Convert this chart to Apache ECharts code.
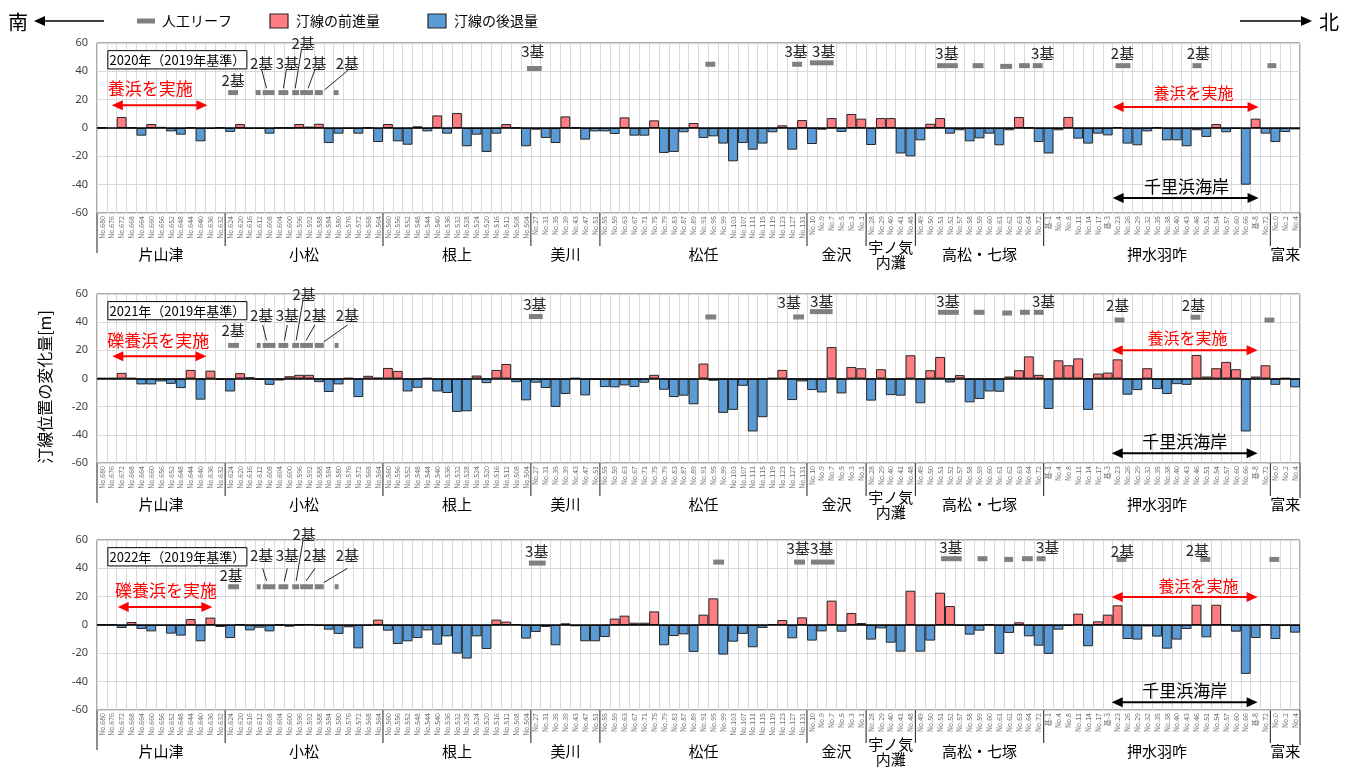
<!DOCTYPE html>
<html><head><meta charset="utf-8">
<script src="https://cdn.jsdelivr.net/npm/echarts@6/dist/echarts.min.js"></script>
<style>html,body{margin:0;padding:0;background:#fff}#c{width:1345px;height:767px}</style>
</head><body><div id="c"></div>
<script>
// ---------- data ----------
const categories = [
 'No.680','No.676','No.672','No.668','No.664','No.660','No.656','No.652','No.648','No.644','No.640','No.636','No.632',
 'No.624','No.620','No.616','No.612','No.608','No.604','No.600','No.596','No.592','No.588','No.584','No.580','No.576','No.572','No.568','No.564',
 'No.560','No.556','No.552','No.548','No.544','No.540','No.536','No.532','No.528','No.524','No.520','No.516','No.512','No.508','No.504',
 'No.27','No.31','No.35','No.39','No.43','No.47','No.51',
 'No.55','No.59','No.63','No.67','No.71','No.75','No.79','No.83','No.87','No.89','No.91','No.95','No.99','No.103','No.107','No.111','No.115','No.119','No.123','No.127','No.131',
 'No.10','No.9','No.7','No.5','No.3','No.1',
 'No.28','No.29','No.40','No.41','No.48',
 'No.49','No.50','No.51','No.52','No.57','No.58','No.59','No.60','No.61','No.62','No.63','No.64','No.72',
 '基-1','No.4','No.8','No.11','No.14','No.17','基-3','No.23','No.26','No.29','No.32','No.35','No.38','No.40','No.43','No.46','No.51','No.54','No.57','No.60','No.66','基-8','No.72',
 'No.0','No.2','No.4'
];
const groupNames = ['片山津','小松','根上','美川','松任','金沢','宇ノ気\n内灘','高松・七塚','押水羽咋','富来'];
const groupSizes = [13,16,15,7,21,6,5,13,23,3];
const years = ['2020','2021','2022'];
const yTicks = [-60,-40,-20,0,20,40,60];

const values2020 = [
 0.3,0,7.8,0.3,-5.4,2.8,0.8,-2.4,-4.7,0.3,-9.4,-0.7,0.3,
 -2.8,2.8,-0.5,-0.5,-4,0.2,0.2,2.8,1,3,-10.6,-4,-0.5,-4,0.2,-9.9,
 2.8,-9.4,-11.8,1.2,-2.4,8.9,-4,10.6,-12.9,-4.7,-16.9,-4,2.8,0.2,-12.9,
 -1.2,-7,-10.6,8.2,0.2,-8.2,-2.4,
 -2.4,-4.2,7.5,-5.4,-5.4,5.4,-17.6,-16.9,-3,3.5,-7,-5.9,-11,-23.5,-10.6,-15.3,-11,-3,1.9,-15.3,5.6,
 -11.3,-1.2,7,-2.8,9.9,6.6,
 -12,7,7,-18,-20,
 -8.7,3,7,-4,-1.6,-9.4,-7.3,-4,-12.2,-1.6,7.8,0.3,-9.9,
 -18,-1.6,7.8,-7.5,-11,-4,-5.2,0.7,-11,-12.2,-2.4,0.5,-8.7,-8.7,-12.9,-1.6,-6.3,2.8,-3,-0.5,-40,6.6,-4,
 -9.9,-2.8,-1
];
const values2021 = [
 0.3,0.3,4,0.3,-4.2,-4.2,-2.1,-3.8,-6.8,6.1,-15,5.6,-0.9,
 -9.2,3.8,0.9,-0.9,-4.5,-1.4,1.6,2.6,2.6,-2.6,-9.6,-4.2,0.3,-13.2,1.9,0.5,
 7.5,5.4,-9.2,-6.6,0.3,-9.2,-10.3,-23.7,-23.3,2.1,-3.3,6.1,10.3,-2.6,-15.5,
 -3,-6.8,-20.2,-11,0.3,-12,-1,
 -6.1,-6.3,-4.9,-6.1,-3,2.6,-8,-13.2,-12.2,-18.3,10.6,-1.6,-24.4,-22.3,-5.2,-37.6,-27.5,0.3,6.1,-15.3,-2.1,
 -8.2,-9.9,22.3,-10.6,8.2,7.3,
 -15.7,6.6,-11.8,-12.2,16.5,
 -17.6,5.9,15.3,-2.8,2.4,-16.9,-14.6,-9.2,-9.4,1.4,5.9,15.7,2.6,
 -21.6,12.9,9.4,14.3,-22.3,3.5,4.2,13.6,-11.5,-8.2,7.3,-7.5,-11,-4,-4.5,16.7,1.4,7.3,11.8,6.6,-37.6,1.4,9.4,
 -4.5,0.3,-6.3
];
const values2022 = [
 0.3,0.3,-2.1,2.1,-2.8,-4.5,-0.7,-6.1,-7.5,4.2,-11.5,5.2,-1.4,
 -9.2,0.5,-3.8,-1.9,-4.5,0.3,-1.2,0.3,0.7,-0.5,-3.3,-6.3,-1.6,-16.5,-0.5,3.8,
 -4,-13.4,-11.5,-9.2,-3.8,-13.9,-8,-20.2,-23.7,-8,-16.9,3.8,2.4,0.7,-9.6,
 -4.9,-1.4,-14.3,1.2,-0.9,-11.5,-11.5,
 -8.5,4.5,6.6,1.6,1.6,9.6,-14.3,-7.8,-6.6,-19,7.3,18.8,-20.9,-11.8,-6.3,-15.7,-2.1,0.7,3.5,-9.4,5.4,
 -11,-4.5,17.2,-4.7,8.5,1.4,
 -10.3,-2.4,-12.5,-18.8,24.2,
 -18.8,-11,22.8,13.4,-0.5,-6.8,-4,0.3,-20.4,-5.6,1.9,-8,-14.6,
 -20.4,-3.3,-0.5,8,-15,2.6,7.3,13.9,-9.9,-10.3,-1,-8.2,-16.7,-10.3,-2.8,14.3,-8.7,14.3,0.5,-4.7,-34.5,-9.2,0.5,
 -9.9,-0.5,-5.4
];
const values = [values2020, values2021, values2022];

// artificial reefs: [start, end] in category units, level [m]
const reefs2020 = [[13.3,14.3,25],[16.1,16.6,25],[16.8,18.0,25],[18.4,19.4,25],[19.8,20.5,25],[20.6,21.9,25],[22.1,22.9,25],[24.0,24.5,25],
 [43.6,45.1,42],[61.7,62.7,45],[70.5,71.5,45],[72.3,74.7,46],[85.2,87.3,44],[88.8,89.9,44],[91.6,92.8,43.5],[93.5,94.6,44],[94.9,95.9,44],[103.3,104.8,44],[111.1,112,44],[118.7,119.6,44]];
const reefs2021 = [[13.3,14.4,23.5],[16.2,16.6,23.5],[16.8,18.1,23.5],[18.4,19.4,23.5],[19.8,20.5,23.5],[20.6,21.9,23.5],[22.1,23.0,23.5],[24.1,24.5,23.5],
 [43.8,45.2,44],[61.7,62.8,43.7],[70.6,71.7,43.7],[72.3,74.6,47.5],[85.3,87.4,47],[88.9,90,47],[91.8,92.8,46.5],[93.6,94.6,47],[95,96,47],[103.2,104.2,41.5],[110.9,111.9,43.5],[118.4,119.4,41.5]];
const reefs2022 = [[13.3,14.4,27],[16.2,16.6,27],[16.8,18.1,27],[18.4,19.4,27],[19.8,20.5,27],[20.6,21.9,27],[22.1,23.0,27],[24.1,24.5,27],
 [43.8,45.5,43.7],[62.5,63.6,44.4],[70.7,71.8,44.4],[72.4,74.8,44.4],[85.6,87.7,46.8],[89.3,90.3,46.8],[92,92.9,46.3],[93.8,94.9,46.8],[95.3,96.2,46.8],[103.4,104.4,46.3],[111.9,112.9,46.3],[118.9,119.9,46.3]];
const reefs = [reefs2020, reefs2021, reefs2022];

// reef count labels [text, category pos, level]
const kiLabels2020 = [['2基',13.8,34],['2基',16.7,46],['3基',19.3,46],['2基',20.9,60],['2基',22.1,46],['2基',25.4,46],['3基',44.2,54],['3基',70.9,54],['3基',73.7,54],['3基',86.2,53],['3基',95.9,53],['2基',104,53],['2基',111.7,53]];
const kiLabels2021 = [['2基',13.8,34],['2基',16.7,45],['3基',19.3,45],['2基',21.0,60],['2基',22.1,45],['2基',25.4,45],['3基',44.4,53],['3基',70.2,54],['3基',73.5,55],['3基',86.3,55],['3基',96,55],['2基',103.5,52],['2基',111.2,52]];
const kiLabels2022 = [['2基',13.6,35],['2基',16.7,49],['3基',19.3,49],['2基',21.0,64],['2基',22.1,49],['2基',25.4,49],['3基',44.6,52],['3基',71.1,54],['3基',73.5,54],['3基',86.6,55],['3基',96.4,55],['2基',104,52],['2基',111.6,53]];
const kiLabels = [kiLabels2020, kiLabels2021, kiLabels2022];
const leaders = [
 [[16.7,41,17.2,28],[19.2,41,18.9,28],[20.75,56,20.1,28],[22.1,41,21.4,28],[25.5,41,23.1,27]],
 [[16.8,38,17.2,27],[19.3,38,19.0,27],[20.9,56,20.2,27],[22.1,38,21.2,27],[25.4,38,23.0,26]],
 [[16.8,40,17.2,31],[19.3,40,19.0,31],[20.9,60,20.2,31],[22.1,40,21.2,31],[25.4,40,23.0,30]]
];
const leftNotes = [
 {text:'養浜を実施', c1:1.5, c2:11.2, y:16, tc:5.4, ty:27.5},
 {text:'礫養浜を実施', c1:1.55, c2:11.1, y:15.8, tc:6.2, ty:26.8},
 {text:'礫養浜を実施', c1:2.1, c2:11.7, y:12.7, tc:7.0, ty:24}
];
const rightNotes = [
 {c1:103.0,c2:117.8,y:14.8,tc:111.2,ty:24.7,by:-49.4,btc:110.5,bty:-41},
 {c1:102.9,c2:117.7,y:20,tc:110.6,ty:29,by:-53,btc:110.3,bty:-45},
 {c1:102.9,c2:117.7,y:19.8,tc:111.7,ty:27.5,by:-54.5,btc:110.3,bty:-46}
];

// ---------- chart ----------
const FONT = '"Noto Sans CJK JP","Noto Sans",sans-serif';
const RED = '#ff7c80', BLUE = '#5b9bd5', EDGE = '#262626', REEF = '#7f7f7f';
const gridTops = [43, 294, 540];
const gridHeights = [170, 169, 170];
const chart = echarts.init(document.getElementById('c'), null, {renderer:'canvas', width:1345, height:767});

const grid = [], xAxis = [], yAxis = [], series = [];
for (let p = 0; p < 3; p++) {
  grid.push({left:97, width:1203, top:gridTops[p], height:gridHeights[p], show:true, borderColor:'#595959', borderWidth:1, backgroundColor:'#fff', containLabel:false});
  xAxis.push({type:'category', gridIndex:p, data:categories, boundaryGap:true, position:'bottom',
    axisLine:{show:false}, axisTick:{show:false},
    axisLabel:{interval:0, rotate:90, fontSize:7, color:'#6b6b6b', margin:3, fontFamily:FONT},
    splitLine:{show:true, interval:0, lineStyle:{color:'#d9d9d9', width:1}}});
  yAxis.push({type:'value', gridIndex:p, min:yTicks[0], max:yTicks[yTicks.length-1], interval:20,
    axisLine:{show:false}, axisTick:{show:false},
    axisLabel:{fontSize:11, color:'#404040', margin:9, fontFamily:'"Noto Sans",sans-serif'},
    splitLine:{show:true, lineStyle:{color:'#d9d9d9', width:1}}});
  series.push({type:'bar', name:'汀線の前進量', xAxisIndex:p, yAxisIndex:p, barCategoryGap:'0%', barGap:'-100%',
    data: values[p].map(v => v > 0 ? v : '-'),
    itemStyle:{color:RED, borderColor:EDGE, borderWidth:1}, silent:true, z:2});
  series.push({type:'bar', name:'汀線の後退量', xAxisIndex:p, yAxisIndex:p, barCategoryGap:'0%', barGap:'-100%',
    data: values[p].map(v => v < 0 ? v : '-'),
    itemStyle:{color:BLUE, borderColor:EDGE, borderWidth:1}, silent:true, z:3,
    markLine:{silent:true, symbol:'none', label:{show:false}, lineStyle:{color:'#000', width:1.6, type:'solid'}, data:[{yAxis:0}], z:5}});
  series.push({type:'custom', name:'人工リーフ', xAxisIndex:p, yAxisIndex:p, z:4, silent:true,
    dimensions:['x','y','s','e'], encode:{x:0, y:1},
    data: reefs[p].map(r => [Math.max(0, Math.round((r[0]+r[1])/2 - 0.5)), r[2], r[0], r[1]]),
    renderItem: function (params, api) {
      const a = api.coord([0, api.value(1)]);
      const b = api.coord([1, api.value(1)]);
      const bw = b[0] - a[0];
      const x0 = a[0] - bw/2;
      const xs = x0 + api.value(2)*bw, xe = x0 + api.value(3)*bw;
      return {type:'rect', shape:{x:xs, y:a[1]-2.5, width:xe-xs, height:5}, style:{fill:REEF}};
    }});
}

chart.setOption({animation:false, backgroundColor:'#fff', grid, xAxis, yAxis, series});

// ---------- annotations (positioned through the axes) ----------
function X(p, c) {
  const a = chart.convertToPixel({xAxisIndex:p}, 0);
  const b = chart.convertToPixel({xAxisIndex:p}, 1);
  const bw = b - a;
  return a - bw/2 + c*bw;
}
function Y(p, v) { return chart.convertToPixel({yAxisIndex:p}, v); }
function txt(x, y, text, size, color, extra) {
  return {type:'text', x:x, y:y, z:100, silent:true,
    style:Object.assign({text:text, font:size+'px '+FONT, fill:color||'#000', align:'center', verticalAlign:'middle'}, extra||{})};
}
function hArrow(x1, x2, y, color, lw, heads) {
  const L = 11, H = 5;
  const left = heads !== 'right', right = heads !== 'left';
  const out = [{type:'line', z:100, silent:true, shape:{x1:left? x1+L-1 : x1, y1:y, x2:right? x2-L+1 : x2, y2:y}, style:{stroke:color, lineWidth:lw}}];
  if (left) out.push({type:'polygon', z:100, silent:true, shape:{points:[[x1,y],[x1+L,y-H],[x1+L,y+H]]}, style:{fill:color}});
  if (right) out.push({type:'polygon', z:100, silent:true, shape:{points:[[x2,y],[x2-L,y-H],[x2-L,y+H]]}, style:{fill:color}});
  return out;
}

const g = [];
for (let p = 0; p < 3; p++) {
  const bottom = Y(p, -60);
  // group dividers and names
  let s = 0;
  g.push({type:'line', z:100, silent:true, shape:{x1:X(p,0), y1:bottom, x2:X(p,0), y2:bottom+40}, style:{stroke:'#404040', lineWidth:1.2}});
  g.push({type:'line', z:100, silent:true, shape:{x1:X(p,categories.length), y1:bottom, x2:X(p,categories.length), y2:bottom+35}, style:{stroke:'#404040', lineWidth:1.2}});
  groupNames.forEach((name, k) => {
    const e = s + groupSizes[k];
    if (s > 0) g.push({type:'line', z:100, silent:true, shape:{x1:X(p,s), y1:bottom, x2:X(p,s), y2:bottom+33}, style:{stroke:'#404040', lineWidth:1.2}});
    const lines = name.split('\n');
    const off = lines.length > 1 ? -7 : 0;
    lines.forEach((ln, j) => g.push(txt(X(p,(s+e)/2), bottom+41+off+j*15, ln, 15, '#000')));
    s = e;
  });
  // year box
  const bx1 = X(p,1.1), bx2 = X(p,15.2), by1 = Y(p,54.6), by2 = Y(p,41.7);
  g.push({type:'rect', z:100, silent:true, shape:{x:bx1, y:by1, width:bx2-bx1, height:by2-by1}, style:{fill:'#fff', stroke:'#000', lineWidth:1}});
  g.push(txt((bx1+bx2)/2, (by1+by2)/2, years[p]+'年（2019年基準）', 13, '#000'));
  // reef count labels & leaders
  kiLabels[p].forEach(l => g.push(txt(X(p,l[1]), Y(p,l[2]), l[0], 15, '#262626')));
  leaders[p].forEach(l => g.push({type:'line', z:100, silent:true, shape:{x1:X(p,l[0]), y1:Y(p,l[1]), x2:X(p,l[2]), y2:Y(p,l[3])}, style:{stroke:'#262626', lineWidth:1}}));
  // left nourishment arrow
  const ln = leftNotes[p];
  g.push(...hArrow(X(p,ln.c1), X(p,ln.c2), Y(p,ln.y), '#ff0000', 2, 'both'));
  g.push(txt(X(p,ln.tc), Y(p,ln.ty), ln.text, 17, '#ff0000'));
  // right nourishment + 千里浜海岸
  const rn = rightNotes[p];
  g.push(...hArrow(X(p,rn.c1), X(p,rn.c2), Y(p,rn.y), '#ff0000', 2, 'both'));
  g.push(txt(X(p,rn.tc), Y(p,rn.ty), '養浜を実施', 16, '#ff0000'));
  g.push(...hArrow(X(p,rn.c1), X(p,rn.c2), Y(p,rn.by), '#000', 2, 'both'));
  g.push(txt(X(p,rn.btc), Y(p,rn.bty), '千里浜海岸', 17, '#000'));
}
// y axis title
const yTitle = txt(45, 387, '汀線位置の変化量[m]', 16, '#000');
yTitle.rotation = Math.PI/2;
g.push(yTitle);
// header: direction arrows and legend
g.push(txt(18, 22, '南', 20, '#000'));
g.push(...hArrow(34, 104, 21, '#000', 1.5, 'left'));
g.push(txt(1329, 22, '北', 20, '#000'));
g.push(...hArrow(1240, 1312, 21, '#000', 1.5, 'right'));
g.push({type:'rect', z:100, silent:true, shape:{x:137, y:18.5, width:18, height:5}, style:{fill:REEF}});
g.push(txt(162, 21, '人工リーフ', 14, '#000', {align:'left'}));
g.push({type:'rect', z:100, silent:true, shape:{x:270, y:14, width:18, height:14}, style:{fill:RED, stroke:EDGE, lineWidth:1.2}});
g.push(txt(296, 21, '汀線の前進量', 14, '#000', {align:'left'}));
g.push({type:'rect', z:100, silent:true, shape:{x:428, y:14, width:18, height:14}, style:{fill:BLUE, stroke:EDGE, lineWidth:1.2}});
g.push(txt(454, 21, '汀線の後退量', 14, '#000', {align:'left'}));

chart.setOption({graphic: g});
</script>
</body></html>
